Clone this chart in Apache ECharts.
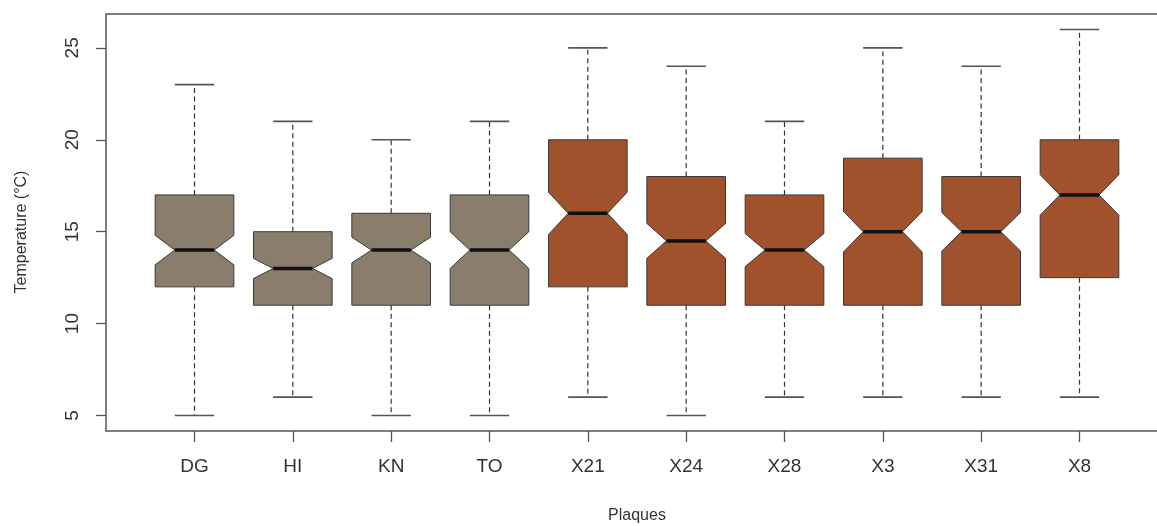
<!DOCTYPE html>
<html>
<head>
<meta charset="utf-8">
<script src="https://cdn.jsdelivr.net/npm/echarts@6/dist/echarts.min.js"></script>
<style>
  html, body { margin: 0; padding: 0; background: #ffffff; overflow: hidden; }
  #chart { width: 1157px; height: 526px; }
</style>
</head>
<body>
<div id="chart"></div>
<script>
// ---- data ----
const categories  = ['DG', 'HI', 'KN', 'TO', 'X21', 'X24', 'X28', 'X3', 'X31', 'X8'];
const whiskerLow  = [5, 6, 5, 5, 6, 5, 6, 6, 6, 6];
const q1          = [12, 11, 11, 11, 12, 11, 11, 11, 11, 12.5];
const median      = [14, 13, 14, 14, 16, 14.5, 14, 15, 15, 17];
const q3          = [17, 15, 16, 17, 20, 18, 17, 19, 18, 20];
const whiskerHigh = [23, 21, 20, 21, 25, 24, 21, 25, 24, 26];
const notchLow    = [13.2, 12.45, 13.3, 13.0, 14.85, 13.55, 13.1, 13.9, 13.95, 15.9];
const notchHigh   = [14.8, 13.55, 14.7, 15.0, 17.15, 15.45, 14.9, 16.1, 16.05, 18.1];
const yTicks      = [5, 10, 15, 20, 25];
const xTitle      = 'Plaques';
const yTitle      = 'Temperature (°C)';

// ---- build ----
const positions = categories.map((c, i) => i + 1);
const boxData = categories.map((c, i) => [positions[i], whiskerLow[i], q1[i], median[i], q3[i], whiskerHigh[i], notchLow[i], notchHigh[i]]);

const FILL_REF = '#8B7D6B';
const FILL_X = '#A0522D';
const HALF = 0.4; // boxwex 0.8

function renderItem(params, api) {
  const x = api.value(0);
  const lo = api.value(1), b1 = api.value(2), md = api.value(3), b3 = api.value(4), hi = api.value(5);
  const nl = api.value(6), nh = api.value(7);
  const name = categories[params.dataIndex];
  const fill = name.charAt(0) === 'X' ? FILL_X : FILL_REF;
  const p = (xv, yv) => api.coord([xv, yv]);
  const w = HALF;
  const poly = [
    p(x - w, b1), p(x - w, nl), p(x - w / 2, md), p(x - w, nh), p(x - w, b3),
    p(x + w, b3), p(x + w, nh), p(x + w / 2, md), p(x + w, nl), p(x + w, b1)
  ];
  const dash = { stroke: '#333', lineWidth: 1.2, lineDash: [5, 3.5] };
  const cap = { stroke: '#555', lineWidth: 1.6 };
  const line = (a, b, style) => ({ type: 'line', shape: { x1: a[0], y1: a[1], x2: b[0], y2: b[1] }, style: style });
  return {
    type: 'group',
    children: [
      line(p(x, b3), p(x, hi), dash),
      line(p(x, b1), p(x, lo), dash),
      line(p(x - w / 2, hi), p(x + w / 2, hi), cap),
      line(p(x - w / 2, lo), p(x + w / 2, lo), cap),
      { type: 'polygon', shape: { points: poly }, style: { fill: fill, stroke: '#3a3a3a', lineWidth: 1 } },
      line(p(x - w / 2, md), p(x + w / 2, md), { stroke: '#111', lineWidth: 3.5 })
    ]
  };
}

const chart = echarts.init(document.getElementById('chart'), null, { renderer: 'canvas' });
const FONT = 'Liberation Sans, Arial, sans-serif';
chart.setOption({
  backgroundColor: '#ffffff',
  animation: false,
  grid: {
    left: 106, top: 14, width: 1062, height: 417,
    outerBoundsMode: 'none', containLabel: false,
    show: true, borderColor: '#555', borderWidth: 1.5, backgroundColor: 'transparent'
  },
  xAxis: {
    type: 'value', min: 0.1, max: 10.9,
    splitLine: { show: false },
    axisLine: { show: false },
    axisTick: { show: true, customValues: positions, length: 11, lineStyle: { color: '#555', width: 1.3 } },
    axisLabel: {
      customValues: positions, margin: 26, fontSize: 19, color: '#333', fontFamily: FONT,
      formatter: v => categories[Math.round(v) - 1]
    }
  },
  yAxis: {
    type: 'value', min: 4.16, max: 26.84,
    splitLine: { show: false },
    axisLine: { show: false },
    axisTick: { show: true, customValues: yTicks, length: 10, lineStyle: { color: '#555', width: 1.3 } },
    axisLabel: { customValues: yTicks, rotate: 90, margin: 24, fontSize: 19, color: '#333', fontFamily: FONT }
  },
  graphic: [
    { type: 'text', x: 637, y: 516, style: { text: xTitle, fontSize: 16, fill: '#333', fontFamily: FONT, align: 'center', verticalAlign: 'middle' } },
    { type: 'text', x: 22, y: 232, rotation: Math.PI / 2, style: { text: yTitle, fontSize: 16, fill: '#333', fontFamily: FONT, align: 'center', verticalAlign: 'middle' } }
  ],
  series: [{
    type: 'custom',
    renderItem: renderItem,
    data: boxData,
    encode: { x: 0, y: [1, 2, 3, 4, 5] },
    clip: false
  }]
});
</script>
</body>
</html>
